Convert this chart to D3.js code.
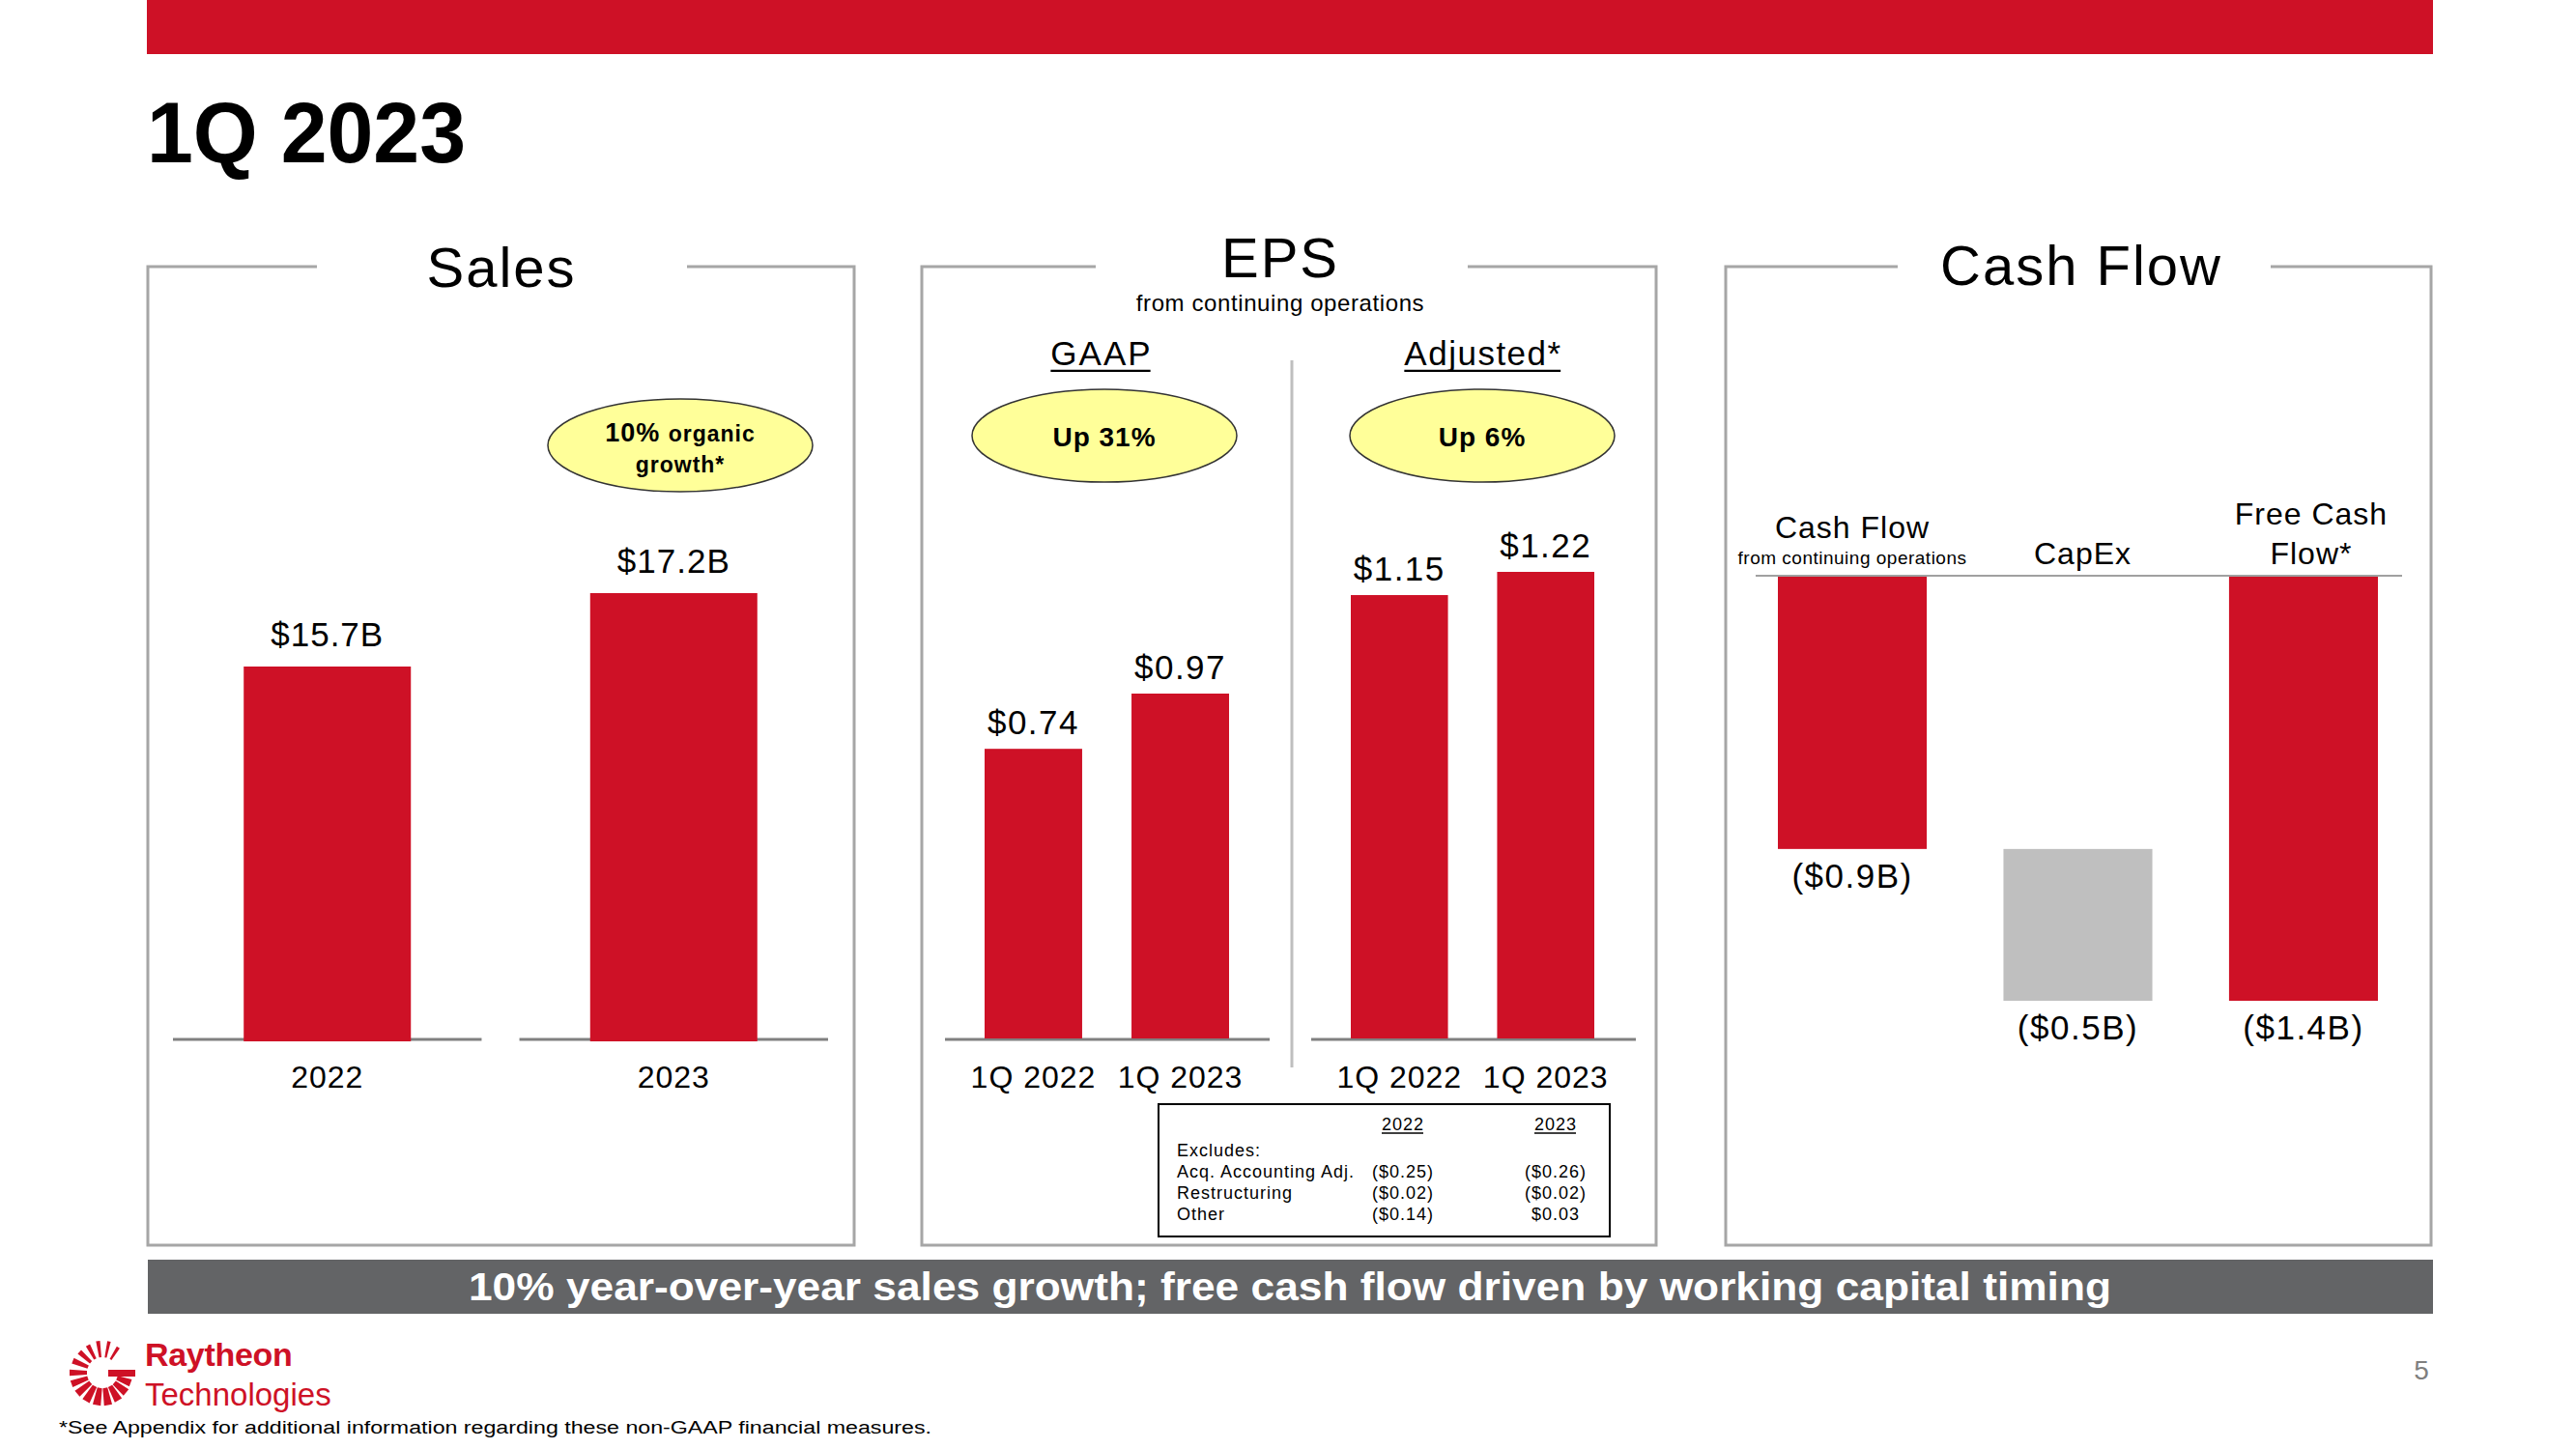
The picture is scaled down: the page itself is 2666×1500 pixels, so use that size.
<!DOCTYPE html>
<html>
<head>
<meta charset="utf-8">
<script src="https://cdn.jsdelivr.net/npm/d3@7"></script>
<style>
  html, body { margin: 0; padding: 0; background: #fff; }
  svg { display: block; }
  text { font-family: "Liberation Sans", Arial, sans-serif; }
</style>
</head>
<body>
<svg id="chart" width="2666" height="1500"></svg>
<script>
// ---------------- DATA ----------------
const slideTitle = "1Q 2023";
const salesCategories = ["2022", "2023"];
const salesValues = [15.7, 17.2];
const salesLabels = ["$15.7B", "$17.2B"];

const epsCategories = ["1Q 2022", "1Q 2023"];
const epsGaapValues = [0.74, 0.97];
const epsGaapLabels = ["$0.74", "$0.97"];
const epsAdjustedValues = [1.15, 1.22];
const epsAdjustedLabels = ["$1.15", "$1.22"];

const cashCategories = ["Cash Flow", "CapEx", "Free Cash Flow*"];
const cashStarts = [0, -0.9, 0];
const cashEnds = [-0.9, -1.4, -1.4];
const cashLabels = ["($0.9B)", "($0.5B)", "($1.4B)"];

const excludeYears = ["2022", "2023"];
const excludeItems = ["Acq. Accounting Adj.", "Restructuring", "Other"];
const exclude2022 = ["($0.25)", "($0.02)", "($0.14)"];
const exclude2023 = ["($0.26)", "($0.02)", "$0.03"];

const bannerText = "10% year-over-year sales growth; free cash flow driven by working capital timing";
const footnote = "*See Appendix for additional information regarding these non-GAAP financial measures.";

// ---------------- STYLE ----------------
const RED = "#CE1126";
const GREY_BAR = "#BFBFBF";
const BORDER = "#A6A6A6";
const AXIS = "#808080";
const YELLOW = "#FFFF99";

const svg = d3.select("#chart");

// top red band
svg.append("rect").attr("x", 152).attr("y", 0).attr("width", 2366).attr("height", 56).attr("fill", RED);

// slide title
svg.append("text").attr("x", 152).attr("y", 168)
  .attr("font-size", 89).attr("font-weight", "bold").attr("fill", "#000")
  .attr("textLength", 330).attr("lengthAdjust", "spacingAndGlyphs")
  .text(slideTitle);

// ---------------- PANELS ----------------
const panelTop = 276, panelBottom = 1289;
const panels = [
  { x0: 153, x1: 884, title: "Sales", gap: [328, 711], tx: 519, ty: 297 },
  { x0: 954, x1: 1714, title: "EPS", gap: [1134, 1519], tx: 1325, ty: 287 },
  { x0: 1786, x1: 2516, title: "Cash Flow", gap: [1964, 2350], tx: 2154, ty: 295 }
];
panels.forEach(p => {
  const path = `M${p.gap[0]},${panelTop} L${p.x0},${panelTop} L${p.x0},${panelBottom} L${p.x1},${panelBottom} L${p.x1},${panelTop} L${p.gap[1]},${panelTop}`;
  svg.append("path").attr("d", path).attr("fill", "none").attr("stroke", BORDER).attr("stroke-width", 3);
  svg.append("text").attr("x", p.tx).attr("y", p.ty).attr("text-anchor", "middle")
    .attr("font-size", 58).attr("letter-spacing", 2).attr("fill", "#000").text(p.title);
});

function ellipseNote(cx, cy, lines) {
  svg.append("ellipse").attr("cx", cx).attr("cy", cy).attr("rx", 137).attr("ry", 48)
    .attr("fill", YELLOW).attr("stroke", "#333").attr("stroke-width", 1.5);
  lines.forEach(l => {
    const t = svg.append("text").attr("x", cx).attr("y", l.y).attr("text-anchor", "middle")
      .attr("font-weight", "bold").attr("fill", "#000").attr("letter-spacing", 1);
    l.parts.forEach(pt => t.append("tspan").attr("font-size", pt.size).text(pt.text));
  });
}

function underlinedText(x, y, txt, size, spacing) {
  const t = svg.append("text").attr("x", x).attr("y", y).attr("text-anchor", "middle")
    .attr("font-size", size).attr("letter-spacing", spacing).attr("fill", "#000").text(txt);
  const w = t.node().getComputedTextLength();
  svg.append("line").attr("x1", x - w / 2).attr("x2", x + w / 2 - spacing)
    .attr("y1", y + size * 0.17).attr("y2", y + size * 0.17)
    .attr("stroke", "#000").attr("stroke-width", Math.max(1.5, size / 16));
}

// ---------------- SALES ----------------
const salesX = d3.scaleBand().domain(salesCategories).range([179, 857]).paddingInner(0.109);
const salesY = d3.scaleLinear().domain([8.06, 17.2]).range([1077, 614]);
const salesBarW = 173;
salesCategories.forEach((c, i) => {
  const bx = salesX(c), bw = salesX.bandwidth();
  svg.append("line").attr("x1", bx).attr("x2", bx + bw).attr("y1", 1076).attr("y2", 1076)
    .attr("stroke", AXIS).attr("stroke-width", 3);
});
svg.append("g").selectAll("rect").data(salesValues).join("rect")
  .attr("x", (d, i) => salesX(salesCategories[i]) + salesX.bandwidth() / 2 - salesBarW / 2)
  .attr("y", d => salesY(d))
  .attr("width", salesBarW)
  .attr("height", d => salesY.range()[0] - salesY(d) + 1)
  .attr("fill", RED);
svg.append("g").selectAll("text").data(salesValues).join("text")
  .attr("x", (d, i) => salesX(salesCategories[i]) + salesX.bandwidth() / 2)
  .attr("y", d => salesY(d) - 21)
  .attr("text-anchor", "middle").attr("font-size", 35).attr("letter-spacing", 1).attr("fill", "#000")
  .text((d, i) => salesLabels[i]);
svg.append("g").selectAll("text").data(salesCategories).join("text")
  .attr("x", d => salesX(d) + salesX.bandwidth() / 2).attr("y", 1126)
  .attr("text-anchor", "middle").attr("font-size", 32).attr("letter-spacing", 1).attr("fill", "#000")
  .text(d => d);
ellipseNote(704, 461, [
  { y: 457, parts: [{ text: "10% ", size: 27 }, { text: "organic", size: 23 }] },
  { y: 489, parts: [{ text: "growth*", size: 23 }] }
]);

// ---------------- EPS ----------------
underlinedText(1140, 378, "GAAP", 35, 2);
underlinedText(1535, 378, "Adjusted*", 35, 1.5);
svg.append("text").attr("x", 1325).attr("y", 322).attr("text-anchor", "middle")
  .attr("font-size", 24).attr("letter-spacing", 0.6).attr("fill", "#000").text("from continuing operations");
svg.append("line").attr("x1", 1337).attr("x2", 1337).attr("y1", 373).attr("y2", 1105)
  .attr("stroke", "#BFBFBF").attr("stroke-width", 3);
ellipseNote(1143, 451, [{ y: 462, parts: [{ text: "Up 31%", size: 28 }] }]);
ellipseNote(1534, 451, [{ y: 462, parts: [{ text: "Up 6%", size: 28 }] }]);

const gaapX = d3.scaleBand().domain(epsCategories).range([1019, 1272]).paddingInner(0.336);
const gaapY = d3.scaleLinear().domain([-0.47, 0.97]).range([1076, 718]);
const adjX = d3.scaleBand().domain(epsCategories).range([1398, 1650]).paddingInner(0.336);
const adjY = d3.scaleLinear().domain([-0.19, 1.22]).range([1076, 592]);

[[gaapX, gaapY, epsGaapValues, epsGaapLabels, [978, 1314]],
 [adjX, adjY, epsAdjustedValues, epsAdjustedLabels, [1357, 1693]]].forEach(([x, y, vals, labs, lr]) => {
  svg.append("line").attr("x1", lr[0]).attr("x2", lr[1]).attr("y1", 1076).attr("y2", 1076)
    .attr("stroke", AXIS).attr("stroke-width", 3);
  const g = svg.append("g");
  g.selectAll("rect").data(vals).join("rect")
    .attr("x", (d, i) => x(epsCategories[i]))
    .attr("y", d => y(d))
    .attr("width", x.bandwidth())
    .attr("height", d => y.range()[0] - y(d) - 1)
    .attr("fill", RED);
  g.selectAll("text.v").data(vals).join("text").attr("class", "v")
    .attr("x", (d, i) => x(epsCategories[i]) + x.bandwidth() / 2)
    .attr("y", d => y(d) - 15)
    .attr("text-anchor", "middle").attr("font-size", 35).attr("letter-spacing", 1.5).attr("fill", "#000")
    .text((d, i) => labs[i]);
  g.selectAll("text.c").data(epsCategories).join("text").attr("class", "c")
    .attr("x", d => x(d) + x.bandwidth() / 2).attr("y", 1126)
    .attr("text-anchor", "middle").attr("font-size", 32).attr("letter-spacing", 1).attr("fill", "#000")
    .text(d => d);
});

// Excludes table
svg.append("rect").attr("x", 1199).attr("y", 1143).attr("width", 467).attr("height", 137)
  .attr("fill", "#fff").attr("stroke", "#000").attr("stroke-width", 2);
const colX = [1452, 1610];
excludeYears.forEach((yr, i) => underlinedText(colX[i], 1170, yr, 18, 1));
svg.append("text").attr("x", 1218).attr("y", 1197).attr("font-size", 18).attr("letter-spacing", 1)
  .attr("fill", "#000").text("Excludes:");
const rowY = [1219, 1241, 1263];
excludeItems.forEach((it, i) => {
  svg.append("text").attr("x", 1218).attr("y", rowY[i]).attr("font-size", 18).attr("letter-spacing", 1)
    .attr("fill", "#000").text(it);
  svg.append("text").attr("x", colX[0]).attr("y", rowY[i]).attr("text-anchor", "middle").attr("font-size", 18)
    .attr("letter-spacing", 1).attr("fill", "#000").text(exclude2022[i]);
  svg.append("text").attr("x", colX[1]).attr("y", rowY[i]).attr("text-anchor", "middle").attr("font-size", 18)
    .attr("letter-spacing", 1).attr("fill", "#000").text(exclude2023[i]);
});

// ---------------- CASH FLOW ----------------
const cashX = d3.scaleBand().domain(cashCategories).range([1840, 2461]).paddingInner(0.34);
const cashY = d3.scaleLinear().domain([-1.4, 0]).range([1036, 596]);
svg.append("line").attr("x1", 1817).attr("x2", 2486).attr("y1", cashY(0)).attr("y2", cashY(0))
  .attr("stroke", AXIS).attr("stroke-width", 1.5);
svg.append("g").selectAll("rect").data(cashCategories).join("rect")
  .attr("x", d => cashX(d))
  .attr("y", (d, i) => cashY(Math.max(cashStarts[i], cashEnds[i])) + (i === 1 ? 0 : 1))
  .attr("width", cashX.bandwidth())
  .attr("height", (d, i) => Math.abs(cashY(cashStarts[i]) - cashY(cashEnds[i])) - (i === 1 ? 0 : 1))
  .attr("fill", (d, i) => i === 1 ? GREY_BAR : RED);
svg.append("g").selectAll("text").data(cashCategories).join("text")
  .attr("x", d => cashX(d) + cashX.bandwidth() / 2)
  .attr("y", (d, i) => cashY(Math.min(cashStarts[i], cashEnds[i])) + 40)
  .attr("text-anchor", "middle").attr("font-size", 35).attr("letter-spacing", 1.5).attr("fill", "#000")
  .text((d, i) => cashLabels[i]);
// column headers
const cfc = cashX(cashCategories[0]) + cashX.bandwidth() / 2;
const cxc = cashX(cashCategories[1]) + cashX.bandwidth() / 2 + 5;
const fcc = cashX(cashCategories[2]) + cashX.bandwidth() / 2 + 8;
svg.append("text").attr("x", cfc).attr("y", 557).attr("text-anchor", "middle").attr("font-size", 32)
  .attr("letter-spacing", 1).attr("fill", "#000").text("Cash Flow");
svg.append("text").attr("x", cfc).attr("y", 584).attr("text-anchor", "middle").attr("font-size", 19)
  .attr("letter-spacing", 0.5).attr("fill", "#000").text("from continuing operations");
svg.append("text").attr("x", cxc).attr("y", 584).attr("text-anchor", "middle").attr("font-size", 32)
  .attr("letter-spacing", 1).attr("fill", "#000").text("CapEx");
svg.append("text").attr("x", fcc).attr("y", 543).attr("text-anchor", "middle").attr("font-size", 32)
  .attr("letter-spacing", 1).attr("fill", "#000").text("Free Cash");
svg.append("text").attr("x", fcc).attr("y", 584).attr("text-anchor", "middle").attr("font-size", 32)
  .attr("letter-spacing", 1).attr("fill", "#000").text("Flow*");

// ---------------- BANNER ----------------
svg.append("rect").attr("x", 153).attr("y", 1304).attr("width", 2365).attr("height", 56).attr("fill", "#636466");
svg.append("text").attr("x", 1335).attr("y", 1346).attr("text-anchor", "middle")
  .attr("font-size", 40).attr("font-weight", "bold").attr("fill", "#fff")
  .attr("textLength", 1700).attr("lengthAdjust", "spacingAndGlyphs").text(bannerText);

// ---------------- LOGO & FOOTER ----------------
const logo = svg.append("g").attr("transform", "translate(106,1421)");
const rays = [
  { a: -58, r0: 16, r1: 31, w: 3 }, { a: -78, r0: 16, r1: 33, w: 3 }, { a: -98, r0: 16, r1: 33, w: 3.5 },
  { a: -118, r0: 16, r1: 32, w: 4 }, { a: -138, r0: 16, r1: 32, w: 4.5 }, { a: -158, r0: 16, r1: 33, w: 5 },
  { a: 180, r0: 16, r1: 34, w: 5.5 }, { a: 160, r0: 16, r1: 34, w: 6 }, { a: 140, r0: 16, r1: 34, w: 6.5 },
  { a: 120, r0: 16, r1: 34, w: 7 }, { a: 100, r0: 16, r1: 34, w: 7 }, { a: 80, r0: 16, r1: 34, w: 7 },
  { a: 60, r0: 16, r1: 33, w: 7 }, { a: 40, r0: 16, r1: 32, w: 7 }, { a: 20, r0: 16, r1: 31, w: 6.5 }
];
rays.forEach(r => {
  const rad = r.a * Math.PI / 180;
  const ux = Math.cos(rad), uy = Math.sin(rad), px = -uy, py = ux;
  const hw0 = r.w * 0.35, hw1 = r.w * 0.6;
  const pts = [
    [r.r0 * ux + px * hw0, r.r0 * uy + py * hw0],
    [r.r1 * ux + px * hw1, r.r1 * uy + py * hw1],
    [r.r1 * ux - px * hw1, r.r1 * uy - py * hw1],
    [r.r0 * ux - px * hw0, r.r0 * uy - py * hw0]
  ];
  logo.append("polygon").attr("points", pts.map(p => p.join(",")).join(" ")).attr("fill", RED);
});
logo.append("rect").attr("x", 6).attr("y", -3).attr("width", 28).attr("height", 7).attr("fill", RED);
svg.append("text").attr("x", 150).attr("y", 1414).attr("font-size", 34).attr("font-weight", "bold")
  .attr("fill", RED).attr("letter-spacing", -0.3).text("Raytheon");
svg.append("text").attr("x", 150).attr("y", 1455).attr("font-size", 33).attr("fill", RED)
  .attr("letter-spacing", 0).text("Technologies");
svg.append("text").attr("x", 61).attr("y", 1484).attr("font-size", 18).attr("fill", "#000")
  .attr("textLength", 903).attr("lengthAdjust", "spacingAndGlyphs").text(footnote);
svg.append("text").attr("x", 2506).attr("y", 1428).attr("text-anchor", "middle").attr("font-size", 28)
  .attr("fill", "#7F7F7F").text("5");
</script>
</body>
</html>
